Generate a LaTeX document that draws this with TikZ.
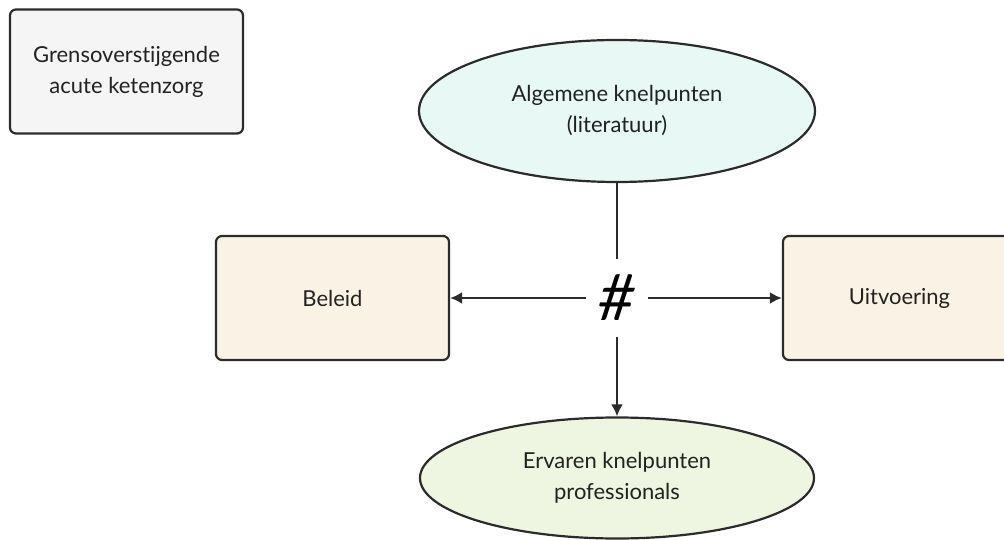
\documentclass[tikz,border=0pt]{standalone}
\usepackage{fontspec}
\setmainfont{Lato}[Ligatures={NoCommon}]
\usetikzlibrary{shapes.geometric,arrows.meta}
\definecolor{edge}{HTML}{2B2B2B}
\definecolor{txt}{HTML}{222222}
\definecolor{greyfill}{HTML}{F5F5F5}
\definecolor{creamfill}{HTML}{FAF2E4}
\definecolor{cyanfill}{HTML}{E8F8F4}
\definecolor{greenfill}{HTML}{EEF5E1}
\tikzset{
  base/.style={draw=edge, line width=2.2pt, text=txt, font=\fontsize{22}{31}\selectfont, align=center, inner sep=0pt},
  rbox/.style={base, rectangle, rounded corners=6pt, minimum width=#1, minimum height=124pt},
  oval/.style={base, ellipse},
  conn/.style={draw=edge, line width=2.4pt},
  arr/.style={conn, -{Latex[length=12pt,width=12pt]}}
}
\begin{document}
\begin{tikzpicture}[x=1pt,y=-1pt]
\useasboundingbox (0,0) rectangle (1004,540);
\node[rbox=233pt, fill=greyfill] (title) at (126.5,71.5) {Grensoverstijgende\\acute ketenzorg};
\node[oval, fill=cyanfill, minimum width=396pt, minimum height=142pt] (lit) at (617,111) {Algemene knelpunten\\(literatuur)};
\node[oval, fill=greenfill, minimum width=394pt, minimum height=121pt] (prof) at (617,478) {Ervaren knelpunten\\professionals};
\node[rbox=233pt, fill=creamfill] (beleid) at (332.5,298) {Beleid};
\node[rbox=233pt, fill=creamfill] (uitv) at (899.5,298) {Uitvoering};
\node[minimum width=62pt, minimum height=77pt, inner sep=0pt, text=black, font=\fontsize{64}{64}\selectfont\itshape] (hash) at (617,298) {\#};
\draw[conn] (lit.south) -- (hash.north);
\draw[arr] (hash.south) -- (prof.north);
\draw[arr] (hash.west) -- (beleid.east);
\draw[arr] (hash.east) -- (uitv.west);
\end{tikzpicture}
\end{document}
